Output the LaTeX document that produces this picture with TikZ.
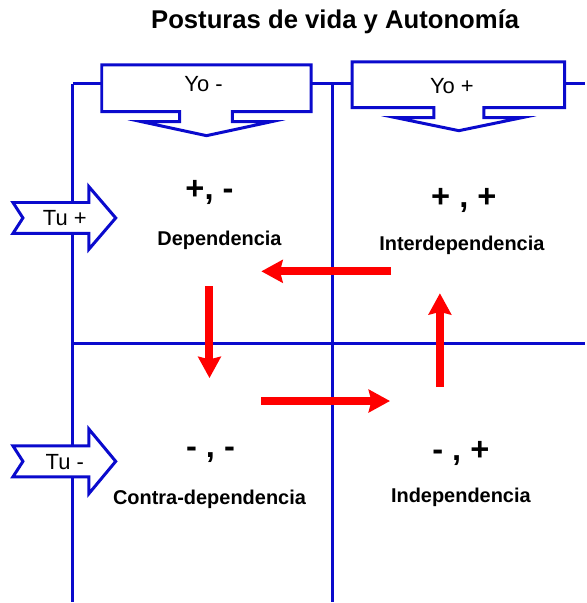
\documentclass[tikz,border=0pt]{standalone}
\usepackage{fontspec}
\setmainfont{Liberation Sans}
\usepackage{tikz}
\usetikzlibrary{arrows.meta}
\tikzset{every picture/.style={line width=0.75pt}}
\tikzset{
  bluewall/.style={color={rgb, 255:red, 10; green, 10; blue, 205 }, line width=2.25},
  callout/.style={color={rgb, 255:red, 10; green, 10; blue, 205 }, fill=white, line width=2.25, line join=miter},
  posture/.style={red, line width=6, -{Stealth[length=16pt,width=17pt,inset=2pt]}},
  signs/.style={font=\fontsize{24.5}{28}\selectfont\bfseries},
  posname/.style={font=\fontsize{15}{18}\selectfont\bfseries},
  tagtext/.style={font=\fontsize{16.5}{19}\selectfont}
}

\begin{document}
\begin{tikzpicture}[x=0.75pt,y=0.75pt,yscale=-1,xscale=1]
%set diagram left start at 0, and has height of 603
\path (0,0) rectangle (586,603);

%Straight Lines
\draw [bluewall] (73,84) -- (73,603) ;
%Straight Lines
\draw [bluewall] (333,84) -- (333,603) ;
%Straight Lines
\draw [bluewall] (73,84) -- (586,84) ;
%Straight Lines
\draw [bluewall] (73,344) -- (586,344) ;

%Shape: Down Arrow Callout
\draw [callout] (102,65) -- (312,65) -- (312,112) -- (233,112) -- (233,122) -- (272,122) -- (207,136) -- (142,122) -- (180,122) -- (180,112) -- (102,112) -- cycle ;
%Shape: Down Arrow Callout
\draw [callout] (353,62) -- (566,62) -- (566,108) -- (485,108) -- (485,118) -- (523,118) -- (460,131) -- (397,118) -- (435,118) -- (435,108) -- (353,108) -- cycle ;

%Shape: Notched Right Arrow
\draw [callout] (13,203) -- (89,203) -- (89,187) -- (116,218.5) -- (89,250) -- (89,234) -- (13,234) -- (23,218.5) -- cycle ;
%Shape: Notched Right Arrow
\draw [callout] (13,447) -- (89,447) -- (89,430) -- (116,462.5) -- (89,495) -- (89,478) -- (13,478) -- (23,462.5) -- cycle ;

% Text Node
\draw (336,22) node (titulo) [font=\fontsize{19.3}{23}\selectfont\bfseries] {Posturas de vida y Autonomía};
% Text Node
\draw (204,84) node (yomenos) [tagtext] {Yo -};
% Text Node
\draw (453,86) node (yomas) [tagtext] {Yo +};
% Text Node
\draw (65,219) node (tumas) [tagtext] {Tu +};
% Text Node
\draw (65,463) node (tumenos) [tagtext] {Tu -};

% Text Node
\draw (210,193) node (sigdep) [signs] {+, -};
% Text Node
\draw (220,241) node (dep) [posname] {Dependencia};
% Text Node
\draw (465,201) node (siginter) [signs] {+ , +};
% Text Node
\draw (463,246) node (inter) [posname] {Interdependencia};
% Text Node
\draw (211,456) node (sigcontra) [signs] {- , -};
% Text Node
\draw (210,501) node (contra) [posname] {Contra-dependencia};
% Text Node
\draw (462,455) node (sigindep) [signs] {- , +};
% Text Node
\draw (462,499) node (indep) [posname] {Independencia};

% arrow ends
\coordinate (interout) at (392,272);
\coordinate (depin) at (262,272);
\coordinate (depout) at (210,287);
\coordinate (contrain) at (210,379);
\coordinate (contraout) at (262,402);
\coordinate (indepin) at (391,402);
\coordinate (indepout) at (441,388);
\coordinate (interin) at (441,294);

%Straight Lines
\draw [posture] (interout) -- (depin) ;
%Straight Lines
\draw [posture] (depout) -- (contrain) ;
%Straight Lines
\draw [posture] (contraout) -- (indepin) ;
%Straight Lines
\draw [posture] (indepout) -- (interin) ;
\end{tikzpicture}
\end{document}
